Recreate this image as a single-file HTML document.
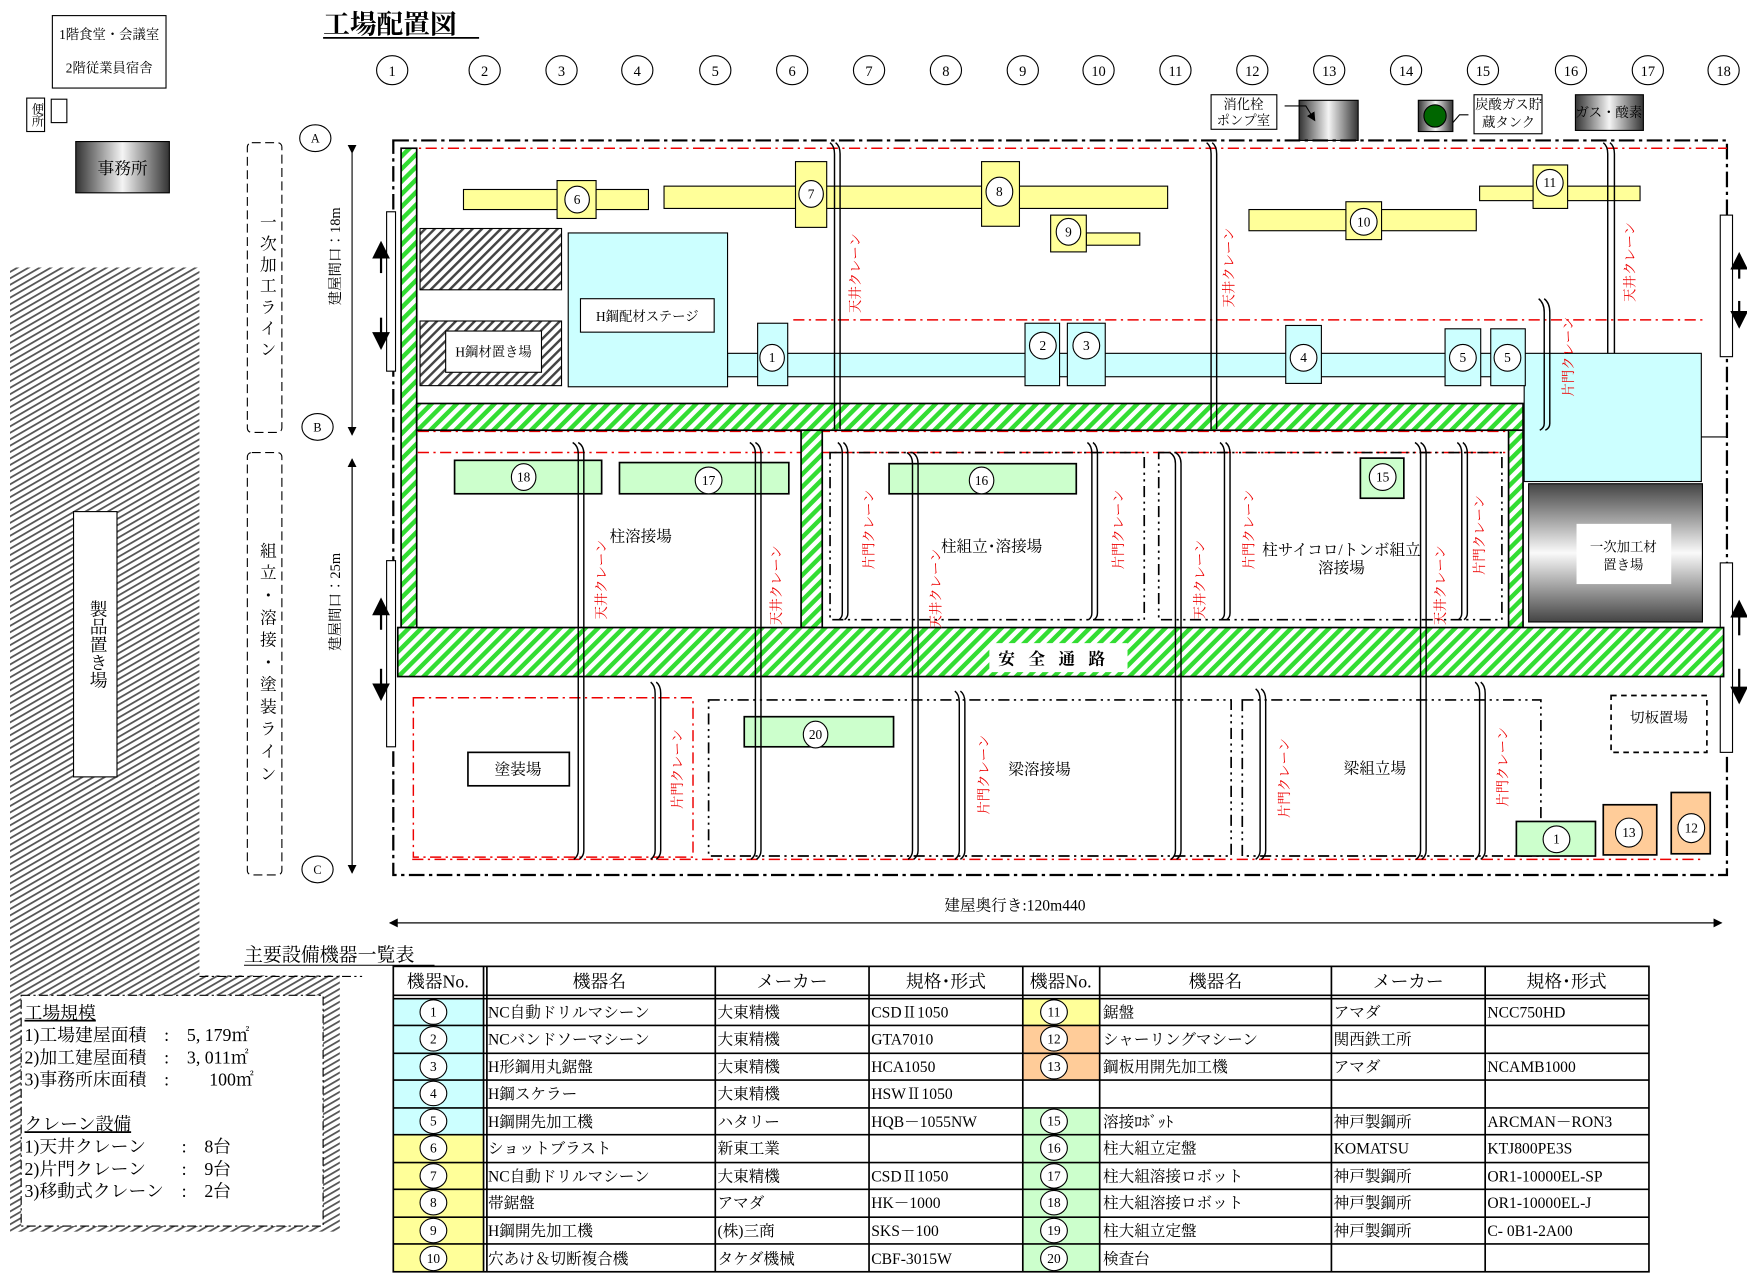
<!DOCTYPE html>
<html><head><meta charset="utf-8"><style>
html,body{margin:0;padding:0;background:#fff;}
svg{display:block;font-family:"Liberation Serif","Noto Serif CJK JP","Noto Sans CJK JP",serif;}
</style></head><body>
<svg width="1747" height="1274" viewBox="0 0 1568 1143" preserveAspectRatio="none" xmlns="http://www.w3.org/2000/svg">
<defs>
<pattern id="gh" width="8" height="8" patternUnits="userSpaceOnUse" patternTransform="rotate(45)"><rect width="8" height="8" fill="#fff"/><rect width="4" height="8" fill="#33dd33"/></pattern>
<pattern id="kh" width="6" height="6" patternUnits="userSpaceOnUse" patternTransform="rotate(45)"><rect width="6" height="6" fill="#fff"/><rect width="2.2" height="6" fill="#444"/></pattern>
<pattern id="lh" width="5" height="5" patternUnits="userSpaceOnUse" patternTransform="rotate(60)"><rect width="5" height="5" fill="#fff"/><rect width="1.6" height="5" fill="#555"/></pattern>
<linearGradient id="gr" x1="0" x2="1" y1="0" y2="0"><stop offset="0" stop-color="#333"/><stop offset="0.5" stop-color="#f4f4f4"/><stop offset="1" stop-color="#333"/></linearGradient>
<linearGradient id="gv" x1="0" x2="0" y1="0" y2="1"><stop offset="0" stop-color="#444"/><stop offset="0.5" stop-color="#fafafa"/><stop offset="1" stop-color="#444"/></linearGradient>
<marker id="ar" markerWidth="8" markerHeight="8" refX="7" refY="4" orient="auto"><path d="M0,0 L8,4 L0,8 z" fill="#000"/></marker>
</defs>

<rect x="9" y="240" width="170" height="635" fill="url(#lh)"/>
<rect x="9" y="875" width="296" height="230" fill="url(#lh)"/>
<line x1="179" y1="876" x2="325" y2="876" stroke="#000" stroke-dasharray="8,3,2,3"/>
<rect x="66" y="459" width="39" height="238" fill="#fff" stroke="#000"/>
<text x="86" y="578" font-size="16" text-anchor="middle" style="writing-mode:vertical-rl" dominant-baseline="middle">製品置き場</text>
<rect x="19" y="893" width="271" height="207" fill="#fff" stroke="#000" stroke-dasharray="8,3,2,3"/>
<g font-size="16">
<text x="22" y="914" text-decoration="underline">工場規模</text>
<text x="22" y="934">1)工場建屋面積　:　5, 179㎡</text>
<text x="22" y="954">2)加工建屋面積　:　3, 011㎡</text>
<text x="22" y="974">3)事務所床面積　:　　 100㎡</text>
<text x="22" y="1014" text-decoration="underline">クレーン設備</text>
<text x="22" y="1034">1)天井クレーン　　:　8台</text>
<text x="22" y="1054">2)片門クレーン　　:　9台</text>
<text x="22" y="1074">3)移動式クレーン　:　2台</text>
</g>

<text x="290" y="30" font-size="24" font-weight="bold">工場配置図</text>
<line x1="290" y1="34" x2="430" y2="34" stroke="#000" stroke-width="1.5"/>
<rect x="47" y="14" width="102" height="65" fill="#fff" stroke="#000"/>
<text x="98" y="35" font-size="12" text-anchor="middle">1階食堂・会議室</text>
<text x="98" y="65" font-size="12" text-anchor="middle">2階従業員宿舎</text>
<rect x="24" y="88" width="16" height="30" fill="#fff" stroke="#000"/>
<text x="32" y="103" font-size="11" text-anchor="middle" dominant-baseline="middle" style="writing-mode:vertical-rl">便所</text>
<rect x="46" y="89" width="14" height="21" fill="#fff" stroke="#000"/>
<rect x="68" y="127" width="84" height="46" fill="url(#gr)" stroke="#000"/>
<text x="110" y="156" font-size="15" text-anchor="middle">事務所</text>

<g font-size="13" text-anchor="middle" fill="none">
<g stroke="#000" fill="#fff">
<ellipse cx="352" cy="63" rx="14" ry="13"/><ellipse cx="435" cy="63" rx="14" ry="13"/><ellipse cx="504" cy="63" rx="14" ry="13"/><ellipse cx="572" cy="63" rx="14" ry="13"/><ellipse cx="642" cy="63" rx="14" ry="13"/><ellipse cx="711" cy="63" rx="14" ry="13"/><ellipse cx="780" cy="63" rx="14" ry="13"/><ellipse cx="849" cy="63" rx="14" ry="13"/><ellipse cx="918" cy="63" rx="14" ry="13"/><ellipse cx="986" cy="63" rx="14" ry="13"/><ellipse cx="1055" cy="63" rx="14" ry="13"/><ellipse cx="1124" cy="63" rx="14" ry="13"/><ellipse cx="1193" cy="63" rx="14" ry="13"/><ellipse cx="1262" cy="63" rx="14" ry="13"/><ellipse cx="1331" cy="63" rx="14" ry="13"/><ellipse cx="1410" cy="63" rx="14" ry="13"/><ellipse cx="1479" cy="63" rx="14" ry="13"/><ellipse cx="1547" cy="63" rx="14" ry="13"/>
<ellipse cx="283" cy="124" rx="14" ry="12"/><ellipse cx="285" cy="383" rx="14" ry="12"/><ellipse cx="285" cy="780" rx="14" ry="12"/>
</g>
<g fill="#000">
<text x="352" y="68">1</text><text x="435" y="68">2</text><text x="504" y="68">3</text><text x="572" y="68">4</text><text x="642" y="68">5</text><text x="711" y="68">6</text><text x="780" y="68">7</text><text x="849" y="68">8</text><text x="918" y="68">9</text><text x="986" y="68">10</text><text x="1055" y="68">11</text><text x="1124" y="68">12</text><text x="1193" y="68">13</text><text x="1262" y="68">14</text><text x="1331" y="68">15</text><text x="1410" y="68">16</text><text x="1479" y="68">17</text><text x="1547" y="68">18</text>
<text x="283" y="128" font-size="11">A</text><text x="285" y="387" font-size="11">B</text><text x="285" y="784" font-size="11">C</text>
</g></g>

<rect x="222" y="128" width="31" height="260" rx="4" fill="none" stroke="#000" stroke-dasharray="8,4"/>
<text x="238" y="258" font-size="15" text-anchor="middle" dominant-baseline="middle" style="writing-mode:vertical-rl;letter-spacing:4px">一次加工ライン</text>
<rect x="222" y="406" width="31" height="379" rx="4" fill="none" stroke="#000" stroke-dasharray="8,4"/>
<text x="238" y="596" font-size="15" text-anchor="middle" dominant-baseline="middle" style="writing-mode:vertical-rl;letter-spacing:5px">組立・溶接・塗装ライン</text>
<line x1="316" y1="137" x2="316" y2="390" stroke="#000" marker-end="url(#ar)" marker-start="url(#ar)"/>
<line x1="316" y1="412" x2="316" y2="783" stroke="#000" marker-end="url(#ar)"/>
<line x1="316" y1="783" x2="316" y2="412" stroke="#000" marker-end="url(#ar)"/>
<text transform="translate(305,230) rotate(-90)" font-size="13" text-anchor="middle">建屋間口：18m</text>
<text transform="translate(305,540) rotate(-90)" font-size="13" text-anchor="middle">建屋間口：25m</text>

<rect x="1087" y="85" width="59" height="31" fill="#fff" stroke="#000"/>
<text x="1116" y="98" font-size="12" text-anchor="middle">消化栓</text><text x="1116" y="112" font-size="12" text-anchor="middle">ポンプ室</text>
<rect x="1166" y="90" width="53" height="36" fill="url(#gr)" stroke="#000"/>
<path d="M1153,95 L1172,95 L1180,108" fill="none" stroke="#000" marker-end="url(#ar)"/>
<rect x="1273" y="90" width="31" height="28" fill="url(#gr)" stroke="#000"/>
<circle cx="1288" cy="104" r="10" fill="#006600" stroke="#000"/>
<path d="M1318,103 L1310,103 L1304,110" fill="none" stroke="#000"/>
<rect x="1323" y="85" width="61" height="35" fill="#fff" stroke="#000"/>
<text x="1354" y="98" font-size="12" text-anchor="middle">炭酸ガス貯</text><text x="1354" y="114" font-size="12" text-anchor="middle">蔵タンク</text>
<rect x="1414" y="85" width="61" height="32" fill="url(#gr)" stroke="#000"/>
<text x="1444" y="105" font-size="12" text-anchor="middle">ガス・酸素</text>

<rect x="353" y="126" width="1197" height="659" fill="none" stroke="#000" stroke-width="2" stroke-dasharray="14,4,3,4"/>
<g stroke="#e00" stroke-width="1.3" stroke-dasharray="10,4,2,4" fill="none">
<line x1="362" y1="133" x2="1550" y2="133"/>
<line x1="712" y1="287" x2="1530" y2="287"/>
<line x1="375" y1="387" x2="1370" y2="387"/>
<line x1="375" y1="406" x2="1370" y2="406"/>
<line x1="370" y1="771" x2="1530" y2="771"/>
<rect x="371" y="626" width="251" height="143"/>
</g>

<g fill="#fff" stroke="#000">
<rect x="347" y="190" width="8" height="143"/><rect x="347" y="503" width="8" height="167"/>
<rect x="1544" y="193" width="11" height="127"/><rect x="1544" y="505" width="11" height="170"/>
</g>
<g stroke="#000" stroke-width="2">
<line x1="342" y1="245" x2="342" y2="218" marker-end="url(#ar)"/><line x1="342" y1="285" x2="342" y2="312" marker-end="url(#ar)"/>
<line x1="342" y1="565" x2="342" y2="538" marker-end="url(#ar)"/><line x1="342" y1="600" x2="342" y2="627" marker-end="url(#ar)"/>
<line x1="1561" y1="250" x2="1561" y2="228" marker-end="url(#ar)"/><line x1="1561" y1="270" x2="1561" y2="293" marker-end="url(#ar)"/>
<line x1="1561" y1="570" x2="1561" y2="540" marker-end="url(#ar)"/><line x1="1561" y1="600" x2="1561" y2="630" marker-end="url(#ar)"/>
</g>

<rect x="377" y="205" width="127" height="55" fill="url(#kh)" stroke="#000"/>
<rect x="377" y="288" width="127" height="58" fill="url(#kh)" stroke="#000"/>
<rect x="400" y="297" width="86" height="37" fill="#fff" stroke="#000"/>
<text x="443" y="320" font-size="12" text-anchor="middle">H鋼材置き場</text>
<rect x="653" y="317" width="715" height="21" fill="#ccffff" stroke="#000"/>
<rect x="1368" y="317" width="159" height="115" fill="#ccffff" stroke="#000"/>
<line x1="1527" y1="392" x2="1550" y2="392" stroke="#000"/>
<rect x="510" y="209" width="143" height="138" fill="#ccffff" stroke="#000"/>
<rect x="521" y="268" width="120" height="30" fill="#fff" stroke="#000"/>
<text x="581" y="288" font-size="12" text-anchor="middle">H鋼配材ステージ</text>
<g fill="#ccffff" stroke="#000">
<rect x="680" y="290" width="27" height="56"/><rect x="920" y="290" width="31" height="56"/><rect x="958" y="290" width="34" height="56"/><rect x="1154" y="292" width="32" height="52"/><rect x="1297" y="295" width="32" height="51"/><rect x="1338" y="295" width="31" height="51"/>
</g>
<rect x="1372" y="434" width="156" height="124" fill="url(#gv)" stroke="#000"/>
<rect x="1415" y="470" width="85" height="54" fill="#fff"/>
<text x="1457" y="495" font-size="12" text-anchor="middle">一次加工材</text><text x="1457" y="511" font-size="12" text-anchor="middle">置き場</text>

<g fill="#ffff99" stroke="#000">
<rect x="416" y="170" width="166" height="18"/><rect x="500" y="162" width="35" height="34"/>
<rect x="596" y="167" width="452" height="20"/><rect x="714" y="145" width="28" height="59"/><rect x="881" y="145" width="34" height="58"/>
<rect x="975" y="209" width="48" height="11"/><rect x="943" y="193" width="32" height="33"/>
<rect x="1121" y="188" width="204" height="19"/><rect x="1208" y="181" width="32" height="34"/>
<rect x="1328" y="167" width="144" height="13"/><rect x="1376" y="148" width="31" height="39"/>
</g>

<g fill="url(#gh)" stroke="#000" stroke-width="1.5">
<rect x="360" y="133" width="14" height="430"/>
<rect x="374" y="362" width="993" height="24"/>
<rect x="719" y="386" width="19" height="177"/>
<rect x="1354" y="386" width="13" height="177"/>
<rect x="357" y="563" width="1190" height="44"/>
</g>
<rect x="888" y="577" width="124" height="26" fill="#fff"/>
<text x="950" y="596" font-size="15" font-weight="bold" text-anchor="middle" style="letter-spacing:12px">安全通路</text>

<g fill="none" stroke="#000" stroke-width="1.5" stroke-dasharray="10,4,2,4,2,4">
<rect x="745" y="406" width="282" height="150"/>
<rect x="1040" y="406" width="308" height="150"/>
<rect x="636" y="628" width="469" height="140"/>
<rect x="1115" y="628" width="268" height="140"/>
<rect x="1446" y="624" width="86" height="51" stroke-dasharray="5,4"/>
</g>
<text x="1489" y="648" font-size="13" text-anchor="middle">切板置場</text>
<rect x="420" y="675" width="91" height="30" fill="#fff" stroke="#000" stroke-width="1.5"/>
<text x="465" y="695" font-size="14" text-anchor="middle">塗装場</text>
<g font-size="14" text-anchor="middle">
<text x="575" y="486">柱溶接場</text>
<text x="890" y="495">柱組立･溶接場</text>
<text x="1204" y="498">柱サイコロ/トンボ組立</text><text x="1204" y="514">溶接場</text>
<text x="933" y="695">梁溶接場</text>
<text x="1234" y="694">梁組立場</text>
</g>

<g stroke="#000" stroke-width="1.5">
<rect x="408" y="413" width="132" height="30" fill="#ccffcc"/><rect x="556" y="415" width="152" height="28" fill="#ccffcc"/><rect x="798" y="416" width="168" height="27" fill="#ccffcc"/><rect x="1221" y="411" width="39" height="36" fill="#ccffcc"/><rect x="668" y="643" width="134" height="27" fill="#ccffcc"/><rect x="1361" y="737" width="71" height="31" fill="#ccffcc"/>
<rect x="1439" y="722" width="48" height="45" fill="#ffcc99"/><rect x="1500" y="711" width="35" height="55" fill="#ffcc99"/>
</g>

<g fill="none" stroke="#000" stroke-width="1.3">
<path d="M745,128 q4,3 4,10 V385 M750,128 q4,3 4,10 V385"/>
<path d="M1083,128 q4,3 4,10 V385 M1088,128 q4,3 4,10 V385"/>
<path d="M1439,128 q4,3 4,10 V317 M1445,128 q4,3 4,10 V317"/>
<path d="M1381,268 q5,4 5,12 V380 q0,4 -4,6 M1386,268 q5,4 5,12 V380 q0,4 -4,6"/>
<path d="M514,397 q5,3 5,10 V763 q0,5 -4,8 M519,397 q5,3 5,10 V763 q0,5 -4,8"/>
<path d="M673,397 q5,3 5,10 V763 q0,5 -4,8 M678,397 q5,3 5,10 V763 q0,5 -4,8"/>
<path d="M752,397 q4,3 4,10 V550 q0,4 -3,6 M757,397 q4,3 4,10 V550 q0,4 -3,6"/>
<path d="M814,406 q5,3 5,10 V763 q0,5 -4,8 M819,406 q5,3 5,10 V763 q0,5 -4,8"/>
<path d="M976,397 q4,3 4,10 V550 q0,4 -3,6 M981,397 q4,3 4,10 V550 q0,4 -3,6"/>
<path d="M1050,406 q5,3 5,10 V763 q0,5 -4,8 M1055,406 q5,3 5,10 V763 q0,5 -4,8"/>
<path d="M1095,397 q4,3 4,10 V550 q0,4 -3,6 M1100,397 q4,3 4,10 V550 q0,4 -3,6"/>
<path d="M1270,397 q5,3 5,10 V763 q0,5 -4,8 M1275,397 q5,3 5,10 V763 q0,5 -4,8"/>
<path d="M1308,397 q4,3 4,10 V550 q0,4 -3,6 M1313,397 q4,3 4,10 V550 q0,4 -3,6"/>
<path d="M584,612 q4,3 4,10 V763 q0,5 -4,8 M589,612 q4,3 4,10 V763 q0,5 -4,8"/>
<path d="M857,620 q4,3 4,10 V763 q0,5 -4,8 M862,620 q4,3 4,10 V763 q0,5 -4,8"/>
<path d="M1127,618 q4,3 4,10 V763 q0,5 -4,8 M1132,618 q4,3 4,10 V763 q0,5 -4,8"/>
<path d="M1324,612 q4,3 4,10 V763 q0,5 -4,8 M1329,612 q4,3 4,10 V763 q0,5 -4,8"/>
</g>
<g fill="#e00" font-size="12" text-anchor="middle">
<text transform="translate(772,245) rotate(-90)">天井クレーン</text>
<text transform="translate(1107,240) rotate(-90)">天井クレーン</text>
<text transform="translate(1467,235) rotate(-90)">天井クレーン</text>
<text transform="translate(544,520) rotate(-90)">天井クレーン</text>
<text transform="translate(701,525) rotate(-90)">天井クレーン</text>
<text transform="translate(844,528) rotate(-90)">天井クレーン</text>
<text transform="translate(1081,520) rotate(-90)">天井クレーン</text>
<text transform="translate(1297,525) rotate(-90)">天井クレーン</text>
<text transform="translate(1412,320) rotate(-90)">片門クレーン</text>
<text transform="translate(784,475) rotate(-90)">片門クレーン</text>
<text transform="translate(1008,475) rotate(-90)">片門クレーン</text>
<text transform="translate(1125,475) rotate(-90)">片門クレーン</text>
<text transform="translate(1332,480) rotate(-90)">片門クレーン</text>
<text transform="translate(612,690) rotate(-90)">片門クレーン</text>
<text transform="translate(887,695) rotate(-90)">片門クレーン</text>
<text transform="translate(1157,698) rotate(-90)">片門クレーン</text>
<text transform="translate(1353,688) rotate(-90)">片門クレーン</text>
</g>

<g stroke="#000" fill="#fff">
<ellipse cx="518" cy="179" rx="11" ry="12"/><ellipse cx="728" cy="174" rx="11" ry="12"/><ellipse cx="897" cy="172" rx="12" ry="13"/><ellipse cx="959" cy="208" rx="11" ry="12"/><ellipse cx="1224" cy="199" rx="12" ry="12"/><ellipse cx="1391" cy="164" rx="12" ry="12"/>
<ellipse cx="693" cy="321" rx="11" ry="12"/><ellipse cx="936" cy="310" rx="12" ry="12"/><ellipse cx="975" cy="310" rx="12" ry="12"/><ellipse cx="1170" cy="321" rx="12" ry="12"/><ellipse cx="1313" cy="321" rx="12" ry="12"/><ellipse cx="1353" cy="321" rx="12" ry="12"/>
<ellipse cx="470" cy="428" rx="11" ry="12"/><ellipse cx="636" cy="431" rx="12" ry="12"/><ellipse cx="881" cy="431" rx="11" ry="12"/><ellipse cx="1241" cy="428" rx="12" ry="12"/><ellipse cx="732" cy="659" rx="11" ry="12"/><ellipse cx="1397" cy="753" rx="12" ry="12"/><ellipse cx="1462" cy="747" rx="12" ry="13"/><ellipse cx="1518" cy="743" rx="12" ry="13"/>
</g>
<g font-size="12" text-anchor="middle">
<text x="518" y="183">6</text><text x="728" y="178">7</text><text x="897" y="176">8</text><text x="959" y="212">9</text><text x="1224" y="203">10</text><text x="1391" y="168">11</text>
<text x="693" y="325">1</text><text x="936" y="314">2</text><text x="975" y="314">3</text><text x="1170" y="325">4</text><text x="1313" y="325">5</text><text x="1353" y="325">5</text>
<text x="470" y="432">18</text><text x="636" y="435">17</text><text x="881" y="435">16</text><text x="1241" y="432">15</text><text x="732" y="663">20</text><text x="1397" y="757">1</text><text x="1462" y="751">13</text><text x="1518" y="747">12</text>
</g>

<line x1="350" y1="828" x2="1545" y2="828" stroke="#000" marker-end="url(#ar)"/>
<line x1="1545" y1="828" x2="350" y2="828" stroke="#000" marker-end="url(#ar)"/>
<text x="911" y="817" font-size="14" text-anchor="middle">建屋奥行き:120m440</text>

<text x="219" y="862" font-size="17">主要設備機器一覧表</text>
<line x1="219" y1="866" x2="390" y2="866" stroke="#000"/>
<g>
<rect x="353" y="896" width="81" height="122" fill="#ccffff"/>
<rect x="353" y="1018" width="81" height="123" fill="#ffff99"/>
<rect x="918" y="896" width="69" height="24" fill="#ffff99"/>
<rect x="918" y="920" width="69" height="49" fill="#ffcc99"/>
<rect x="918" y="994" width="69" height="147" fill="#ccffcc"/>
</g>
<g stroke="#000" stroke-width="1.5" fill="none">
<rect x="353" y="867" width="1127" height="274"/>
<line x1="353" y1="893" x2="1480" y2="893"/><line x1="353" y1="896" x2="1480" y2="896"/>
<line x1="353" y1="920" x2="1480" y2="920"/><line x1="353" y1="945" x2="1480" y2="945"/><line x1="353" y1="969" x2="1480" y2="969"/><line x1="353" y1="994" x2="1480" y2="994"/><line x1="353" y1="1018" x2="1480" y2="1018"/><line x1="353" y1="1043" x2="1480" y2="1043"/><line x1="353" y1="1067" x2="1480" y2="1067"/><line x1="353" y1="1092" x2="1480" y2="1092"/><line x1="353" y1="1116" x2="1480" y2="1116"/>
<line x1="434" y1="867" x2="434" y2="1141"/><line x1="437" y1="867" x2="437" y2="1141"/><line x1="642" y1="867" x2="642" y2="1141"/><line x1="780" y1="867" x2="780" y2="1141"/><line x1="918" y1="867" x2="918" y2="1141"/><line x1="987" y1="867" x2="987" y2="1141"/><line x1="1195" y1="867" x2="1195" y2="1141"/><line x1="1333" y1="867" x2="1333" y2="1141"/>
</g>
<g font-size="16" text-anchor="middle">
<text x="393" y="886">機器No.</text><text x="538" y="886">機器名</text><text x="711" y="886">メーカー</text><text x="849" y="886">規格･形式</text>
<text x="952" y="886">機器No.</text><text x="1091" y="886">機器名</text><text x="1264" y="886">メーカー</text><text x="1406" y="886">規格･形式</text>
</g>
<g stroke="#000" fill="#fff">
<ellipse cx="389" cy="908" rx="12" ry="11"/><ellipse cx="389" cy="932" rx="12" ry="11"/><ellipse cx="389" cy="957" rx="12" ry="11"/><ellipse cx="389" cy="981" rx="12" ry="11"/><ellipse cx="389" cy="1006" rx="12" ry="11"/><ellipse cx="389" cy="1030" rx="12" ry="11"/><ellipse cx="389" cy="1055" rx="12" ry="11"/><ellipse cx="389" cy="1079" rx="12" ry="11"/><ellipse cx="389" cy="1104" rx="12" ry="11"/><ellipse cx="389" cy="1129" rx="12" ry="11"/>
<ellipse cx="946" cy="908" rx="12" ry="11"/><ellipse cx="946" cy="932" rx="12" ry="11"/><ellipse cx="946" cy="957" rx="12" ry="11"/><ellipse cx="946" cy="1006" rx="12" ry="11"/><ellipse cx="946" cy="1030" rx="12" ry="11"/><ellipse cx="946" cy="1055" rx="12" ry="11"/><ellipse cx="946" cy="1079" rx="12" ry="11"/><ellipse cx="946" cy="1104" rx="12" ry="11"/><ellipse cx="946" cy="1129" rx="12" ry="11"/>
</g>
<g font-size="12" text-anchor="middle">
<text x="389" y="912">1</text><text x="389" y="936">2</text><text x="389" y="961">3</text><text x="389" y="985">4</text><text x="389" y="1010">5</text><text x="389" y="1034">6</text><text x="389" y="1059">7</text><text x="389" y="1083">8</text><text x="389" y="1108">9</text><text x="389" y="1133">10</text>
<text x="946" y="912">11</text><text x="946" y="936">12</text><text x="946" y="961">13</text><text x="946" y="1010">15</text><text x="946" y="1034">16</text><text x="946" y="1059">17</text><text x="946" y="1083">18</text><text x="946" y="1108">19</text><text x="946" y="1133">20</text>
</g>
<g font-size="14">
<text x="438" y="913">NC自動ドリルマシーン</text><text x="644" y="913">大東精機</text><text x="782" y="913">CSDⅡ1050</text>
<text x="438" y="937">NCバンドソーマシーン</text><text x="644" y="937">大東精機</text><text x="782" y="937">GTA7010</text>
<text x="438" y="962">H形鋼用丸鋸盤</text><text x="644" y="962">大東精機</text><text x="782" y="962">HCA1050</text>
<text x="438" y="986">H鋼スケラー</text><text x="644" y="986">大東精機</text><text x="782" y="986">HSWⅡ1050</text>
<text x="438" y="1011">H鋼開先加工機</text><text x="644" y="1011">ハタリー</text><text x="782" y="1011">HQB－1055NW</text>
<text x="438" y="1035">ショットブラスト</text><text x="644" y="1035">新東工業</text>
<text x="438" y="1060">NC自動ドリルマシーン</text><text x="644" y="1060">大東精機</text><text x="782" y="1060">CSDⅡ1050</text>
<text x="438" y="1084">帯鋸盤</text><text x="644" y="1084">アマダ</text><text x="782" y="1084">HK－1000</text>
<text x="438" y="1109">H鋼開先加工機</text><text x="644" y="1109">(株)三商</text><text x="782" y="1109">SKS－100</text>
<text x="438" y="1134">穴あけ＆切断複合機</text><text x="644" y="1134">タケダ機械</text><text x="782" y="1134">CBF-3015W</text>
<text x="990" y="913">鋸盤</text><text x="1197" y="913">アマダ</text><text x="1335" y="913">NCC750HD</text>
<text x="990" y="937">シャーリングマシーン</text><text x="1197" y="937">関西鉄工所</text>
<text x="990" y="962">鋼板用開先加工機</text><text x="1197" y="962">アマダ</text><text x="1335" y="962">NCAMB1000</text>
<text x="990" y="1011">溶接ﾛﾎﾞｯﾄ</text><text x="1197" y="1011">神戸製鋼所</text><text x="1335" y="1011">ARCMAN－RON3</text>
<text x="990" y="1035">柱大組立定盤</text><text x="1197" y="1035">KOMATSU</text><text x="1335" y="1035">KTJ800PE3S</text>
<text x="990" y="1060">柱大組溶接ロボット</text><text x="1197" y="1060">神戸製鋼所</text><text x="1335" y="1060">OR1-10000EL-SP</text>
<text x="990" y="1084">柱大組溶接ロボット</text><text x="1197" y="1084">神戸製鋼所</text><text x="1335" y="1084">OR1-10000EL-J</text>
<text x="990" y="1109">柱大組立定盤</text><text x="1197" y="1109">神戸製鋼所</text><text x="1335" y="1109">C- 0B1-2A00</text>
<text x="990" y="1134">検査台</text>
</g>
</svg>
</body></html>
